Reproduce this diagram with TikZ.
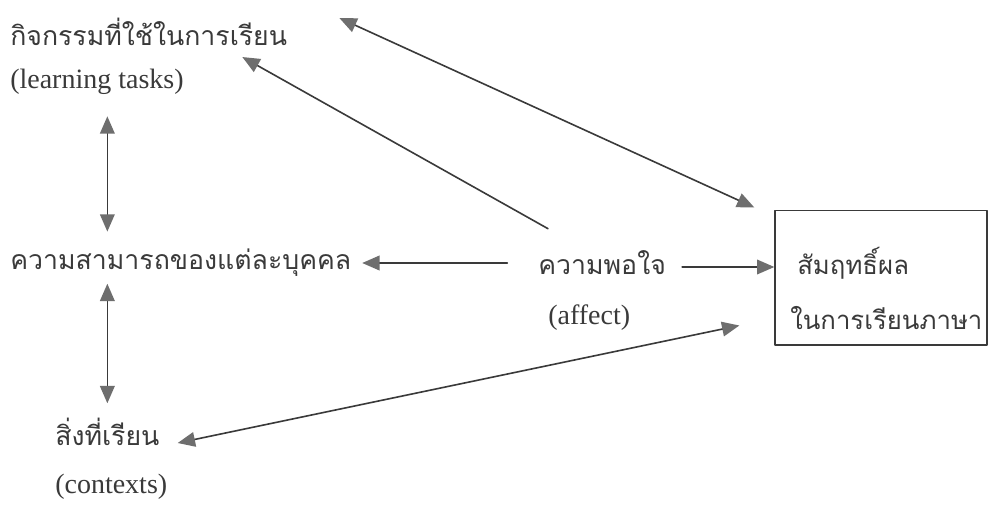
\documentclass[tikz,border=0pt]{standalone}
\usepackage{fontspec}
\setmainfont{Liberation Serif}
\newfontfamily\thaifont[Script=Thai]{Loma}
\usetikzlibrary{arrows.meta}
\definecolor{tinta}{HTML}{3A3A3A}
\definecolor{punta}{HTML}{6E6E6E}

\begin{document}
\begin{tikzpicture}[x=0.75pt, y=-0.75pt, line cap=round, line join=round,
    >={Triangle[length=13pt, width=11pt, color=punta, fill=punta]},
    thai/.style={anchor=west, inner sep=3pt, text=tinta, font=\thaifont\fontsize{20}{24}\selectfont},
    eng/.style={anchor=west, inner sep=3pt, text=tinta, font=\fontsize{21}{25}\selectfont},
    link/.style={tinta, line width=1.2pt},
    resbox/.style={draw=tinta, line width=1pt, minimum width=159pt, minimum height=101pt}]
  \useasboundingbox[fill=white] (0,0) rectangle (988,506);

  % columna izquierda
  \node[thai] (tasks) at (6,32) {กิจกรรมที่ใช้ในการเรียน};
  \node[eng] (taskslbl) at (6,82) {(learning tasks)};
  \node[thai] (abil) at (6,263) {ความสามารถของแต่ละบุคคล};
  \node[thai] (things) at (51,432) {สิ่งที่เรียน};
  \node[eng] (contexts) at (51,487) {(contexts)};

  % centro y resultado
  \node[thai] (sat) at (534,263) {ความพอใจ};
  \node[eng] (affect) at (544,318) {(affect)};
  \node[resbox] (res) at (881,277.5) {};
  \node[thai, font=\thaifont\fontsize{19.3}{23}\selectfont] (res1) at (793,263) {สัมฤทธิ์ผล};
  \node[thai, font=\thaifont\fontsize{19.3}{23}\selectfont] (res2) at (786,318) {ในการเรียนภาษา};

  % flechas
  \draw[link, <->, shorten <=13pt, shorten >=10pt] (taskslbl.south -| things.north) -- (abil.north -| things.north);
  \draw[link, <->, shorten <=2pt, shorten >=8pt] (abil.south -| things.north) -- (things.north);
  \draw[link, ->, shorten <=20pt, shorten >=5pt] (sat.west) -- (abil.east);
  \draw[link, ->, shorten <=9pt] ([yshift=-3pt]sat.east) -- ([yshift=-3pt]sat.east -| res.west);
  \draw[link, ->] ([shift={(14,-18)}]sat.north west) -- ([shift={(-49,7)}]tasks.south east);
  \draw[link, <->] ([shift={(48,-14)}]tasks.east) -- ([shift={(-20,-2)}]res.north west);
  \draw[link, <->] ([shift={(14,11)}]things.east) -- ([shift={(-35,48)}]res.west);
\end{tikzpicture}
\end{document}
